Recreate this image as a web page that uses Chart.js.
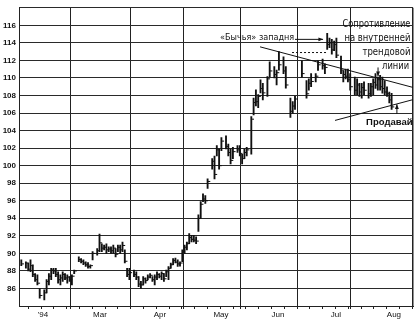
<!DOCTYPE html>
<html>
<head>
<meta charset="utf-8">
<script src="https://cdn.jsdelivr.net/npm/chart.js@4.4.1/dist/chart.umd.min.js"></script>
<style>
  html, body { margin: 0; padding: 0; background: #fff; }
</style>
</head>
<body>
<canvas id="chart" width="419" height="324"></canvas>
<script>
// trading day number, daily high / low / close
const days = [1,3,4,5,6,7,8,9,11,12,13,14,15,16,17,18,19,20,21,22,23,24,26,27,28,29,30,31,32,34,35,36,37,38,39,40,41,42,43,44,45,46,47,48,50,51,52,53,54,55,56,57,58,59,60,61,62,63,64,65,66,67,68,69,70,71,72,73,74,75,76,77,
  78,79,80,81,82,84,85,86,87,88,90,91,92,93,95,96,97,98,99,101,102,103,104,105,106,108,109,111,112,113,115,116,118,119,
  120,123,125,126,127,129,130,132,133,134,135,136,137,138,140,141,142,143,144,146,147,148,149,150,152,153,154,155,156,157,158,159,160,161,162];
const highs = [89.25,89.05,88.9,89.25,88.7,87.7,87.55,86.0,85.85,87.0,87.7,88.3,88.3,88.3,87.9,87.55,87.9,87.7,87.55,87.35,87.55,88.1,89.6,89.4,
  89.25,89.05,88.95,88.7,90.2,90.55,92.2,91.1,90.95,91.1,90.75,90.75,90.95,90.55,90.95,90.95,91.3,90.4,88.3,88.3,88.1,87.9,87.35,86.8,
  87.35,87.2,87.55,87.7,87.35,87.55,87.9,87.7,87.9,87.7,88.1,88.5,88.9,89.4,89.45,89.25,89.05,90.4,90.95,91.3,92.25,92.05,92.05,91.9,
  94.4,95.9,96.8,96.6,98.5,100.8,101.1,102.3,101.9,103.2,103.4,102.45,101.9,102.1,102.3,102.3,101.3,101.9,102.1,105.6,107.7,108.65,108.1,109.8,109.4,110.15,111.85,111.3,110.9,113.0,112.4,111.3,107.7,107.3,
  107.9,111.96,109.7,109.9,110.5,110.5,111.96,112.15,111.6,115.1,114.55,114.4,114.2,114.55,112.5,110.85,111.0,111.0,110.5,110.1,109.9,109.4,109.4,109.55,109.4,109.4,109.9,110.5,110.1,110.3,110.1,109.7,109.0,108.4,108.26];
const lows = [88.6,88.3,88.0,87.9,87.35,86.8,86.4,84.9,84.7,85.5,86.4,87.0,87.7,87.35,86.6,86.4,86.8,87.0,86.6,86.8,86.4,87.7,89.05,88.9,
  88.7,88.5,88.3,88.3,89.25,89.8,90.2,90.2,90.4,90.0,90.2,90.0,90.0,89.6,90.2,90.0,90.2,88.9,87.35,87.0,87.35,87.0,86.2,86.0,
  86.4,86.6,87.0,87.2,86.8,86.4,87.0,87.2,87.0,86.8,87.35,87.0,88.3,88.7,88.9,88.5,88.55,89.05,90.0,90.4,91.1,91.3,91.3,91.1,
  92.5,94.0,95.9,95.7,97.4,99.6,98.5,101.1,99.6,101.7,101.9,101.1,100.2,100.8,101.5,101.1,100.2,100.8,101.1,101.3,105.8,106.8,106.6,108.3,107.5,107.9,110.15,110.0,109.2,110.9,110.5,108.85,105.5,106.0,
  106.4,110.1,107.7,108.6,109.0,109.55,110.85,111.0,110.5,113.26,113.45,112.7,113.1,112.3,110.5,109.55,109.9,109.55,108.6,108.1,108.1,107.9,107.7,108.1,107.7,107.9,108.1,108.8,108.6,108.6,108.26,108.1,107.9,107.15,106.4];
const closes = [88.8,88.9,88.2,88.6,87.6,87.0,86.6,85.2,85.5,86.8,87.4,88.1,88.0,87.6,87.0,87.2,87.6,87.2,87.3,87.0,87.4,88.0,89.3,89.1,
  88.9,88.7,88.5,88.6,90.0,90.3,91.2,90.6,90.7,90.4,90.5,90.3,90.6,89.9,90.7,90.4,90.9,89.1,87.6,87.8,87.6,87.3,86.5,86.4,
  87.1,86.9,87.3,87.5,87.0,87.3,87.6,87.4,87.7,87.1,87.9,88.3,88.7,89.2,89.0,88.8,88.9,90.2,90.7,91.1,91.8,91.6,91.5,91.4,
  94.0,95.6,96.2,96.0,98.2,100.5,99.0,101.8,100.0,102.8,102.2,101.5,100.6,101.6,101.8,101.4,100.8,101.5,101.8,105.3,107.2,107.3,107.9,108.8,108.3,109.9,110.8,110.4,110.6,111.5,110.8,109.2,106.2,106.8,
  107.6,110.5,108.2,109.4,109.6,110.2,111.5,111.4,111.2,113.8,114.0,113.2,113.8,112.6,110.9,110.4,110.2,109.8,109.0,108.6,109.2,108.4,108.9,108.6,108.2,109.0,109.5,109.2,109.8,109.0,108.8,108.4,108.2,107.5,106.7];

// axis layout (days)
const xMax = 171.3;
const monthLines = [22.6, 48.3, 71.7, 96.1, 120.9, 144.3];
const monthLabels = ["'94", 'Mar', 'Apr', 'May', 'Jun', 'Jul', 'Aug'];
const monthLabelDays = [10.4, 35.2, 61.3, 87.8, 112.6, 137.8, 163];
const weekStep = 5.565;

// annotation lines [day, price]
const resistanceLine = [[104.8, 113.55], [171.3, 108.92]];
const supportLine = [[137.4, 105.16], [171.3, 107.53]];
const gapLevel = [[118.7, 112.9], [133.5, 112.9]];

const weekTicks = [];
for (let v = 120.9 - weekStep * 21; v < xMax; v += weekStep) {
    if (v > 0.5) weekTicks.push(+v.toFixed(2));
}
const allTicks = [0, xMax].concat(monthLines, monthLabelDays, weekTicks).sort((a, b) => a - b);

function toPts(arr) {
    return arr.map(p => ({ x: p[0], y: p[1] }));
}

function drawArrow(c, x1, y1, x2, y2) {
    const a = Math.atan2(y2 - y1, x2 - x1);
    c.beginPath();
    c.moveTo(x1, y1);
    c.lineTo(x2, y2);
    c.stroke();
    c.beginPath();
    c.moveTo(x2, y2);
    c.lineTo(x2 - 5 * Math.cos(a - 0.4), y2 - 5 * Math.sin(a - 0.4));
    c.lineTo(x2 - 5 * Math.cos(a + 0.4), y2 - 5 * Math.sin(a + 0.4));
    c.closePath();
    c.fill();
}

// texts and arrows placed in data coordinates
const notesPlugin = {
    id: 'notes',
    afterDatasetsDraw(chart) {
        const c = chart.ctx;
        const xs = chart.scales.x, ys = chart.scales.y;
        const X = v => xs.getPixelForValue(v);
        const Y = v => ys.getPixelForValue(v);
        c.save();
        c.fillStyle = '#111';
        c.strokeStyle = '#111';
        c.lineWidth = 1;
        c.textBaseline = 'middle';

        c.font = '9px "DejaVu Sans Condensed", "DejaVu Sans"';
        c.textAlign = 'left';
        c.fillText('«Бычья» западня', X(87.4), Y(114.65));
        drawArrow(c, X(120), Y(114.4), X(132.2), Y(114.4));

        // tall narrow lettering of the scan: squeeze with maxWidth
        c.font = '11px "DejaVu Sans Condensed", "DejaVu Sans"';
        c.textAlign = 'right';
        c.fillText('Сопротивление', X(170.2), Y(116.1), 68);
        c.fillText('на внутренней', X(170.2), Y(114.5), 66);
        c.fillText('трендовой', X(170.2), Y(112.95), 48);
        c.fillText('линии', X(169.6), Y(111.4), 27);
        drawArrow(c, X(156.1), Y(111.2), X(156.1), Y(110.2));

        c.font = 'bold 9.5px "Liberation Sans", Arial';
        c.fillText('Продавай', X(171.1), Y(104.94));
        drawArrow(c, X(164.3), Y(105.9), X(164.3), Y(107.0));
        c.restore();
    }
};

new Chart(document.getElementById('chart'), {
    type: 'bar',
    data: {
        datasets: [
            {
                type: 'bar',
                data: days.map((d, i) => ({ x: d, y: [lows[i], highs[i]] })),
                backgroundColor: '#111',
                borderWidth: 0,
                barThickness: 1.2
            },
            {
                type: 'scatter',
                data: days.map((d, i) => ({ x: d + 0.6, y: closes[i] })),
                pointStyle: 'line',
                radius: 1.3,
                borderColor: '#111',
                borderWidth: 1
            },
            {
                type: 'line',
                data: toPts(resistanceLine),
                borderColor: '#111',
                borderWidth: 1,
                pointRadius: 0
            },
            {
                type: 'line',
                data: toPts(supportLine),
                borderColor: '#111',
                borderWidth: 1,
                pointRadius: 0
            },
            {
                type: 'line',
                data: toPts(gapLevel),
                borderColor: '#111',
                borderWidth: 1,
                borderDash: [2, 2],
                pointRadius: 0
            }
        ]
    },
    options: {
        responsive: false,
        animation: false,
        layout: { padding: { top: 3, right: 6, left: 0, bottom: 0 } },
        plugins: {
            legend: { display: false },
            tooltip: { enabled: false }
        },
        scales: {
            x: {
                type: 'linear',
                min: 0,
                max: xMax,
                offset: false,
                afterBuildTicks: scale => {
                    scale.ticks = allTicks.map(v => ({ value: v }));
                },
                afterFit: scale => { scale.height = 18; },
                ticks: {
                    autoSkip: false,
                    maxRotation: 0,
                    padding: 1,
                    color: '#111',
                    font: { family: '"Liberation Sans", Arial', size: 8 },
                    callback: v => {
                        const i = monthLabelDays.indexOf(v);
                        return i >= 0 ? monthLabels[i] : '';
                    }
                },
                grid: {
                    offset: false,
                    tickLength: 3,
                    color: c => (monthLines.includes(c.tick.value) || c.tick.value === xMax) ? '#222' : 'rgba(0,0,0,0)',
                    lineWidth: c => c.tick.value === xMax ? 1.5 : 1,
                    tickColor: c => (weekTicks.includes(c.tick.value) || monthLines.includes(c.tick.value)) ? '#222' : 'rgba(0,0,0,0)'
                },
                border: { color: '#222' }
            },
            y: {
                min: 84,
                max: 118,
                afterFit: scale => { scale.width = 19; },
                ticks: {
                    stepSize: 2,
                    padding: 3,
                    color: '#111',
                    font: { family: '"Liberation Sans", Arial', size: 8, weight: 'bold' },
                    callback: v => (v === 84 || v === 118) ? '' : v
                },
                grid: { color: '#2a2a2a', drawTicks: false },
                border: { color: '#222' }
            }
        }
    },
    plugins: [notesPlugin]
});
</script>
</body>
</html>
